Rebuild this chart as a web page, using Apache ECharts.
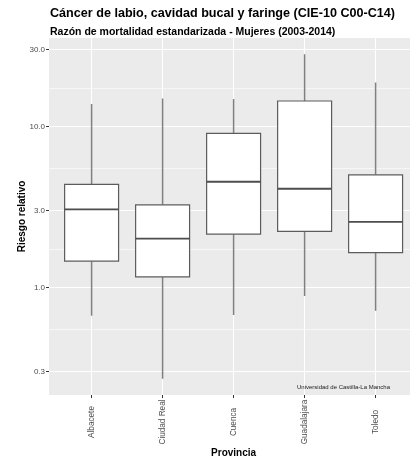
<!DOCTYPE html>
<html>
<head>
<meta charset="utf-8">
<script src="https://cdn.jsdelivr.net/npm/echarts@6/dist/echarts.min.js"></script>
<style>
  html, body { margin: 0; padding: 0; background: #fff; }
  #chart { width: 410px; height: 459px; }
</style>
</head>
<body>
<div id="chart"></div>
<script>
// Provinces of Castilla-La Mancha and the summary of the relative risk per municipality
const provincias = ['Albacete', 'Ciudad Real', 'Cuenca', 'Guadalajara', 'Toledo'];
const minimos    = [0.667, 0.271, 0.674, 0.884, 0.716];
const cuartil1   = [1.455, 1.163, 2.14, 2.23, 1.647];
const medianas   = [3.05, 2.01, 4.53, 4.10, 2.55];
const cuartil3   = [4.36, 3.26, 9.05, 14.37, 5.0];
const maximos    = [13.76, 14.9, 14.78, 28.05, 18.72];

// Log-scale breaks of the vertical axis
const yBreaks      = [0.3, 1, 3, 10, 30];
const yMinorBreaks = [0.548, 1.732, 5.477, 17.32];

const FONT = '"Liberation Sans", Arial, Helvetica, sans-serif';

// Axis limits: data range in log space expanded by 5% on each side
const lgMin = Math.log10(Math.min(...minimos));
const lgMax = Math.log10(Math.max(...maximos));
const pad = 0.05 * (lgMax - lgMin);
const yMin = Math.pow(10, lgMin - pad);
const yMax = Math.pow(10, lgMax + pad);

const xPos = provincias.map((_, i) => i + 1);
const boxData = provincias.map((_, i) =>
  [xPos[i], minimos[i], cuartil1[i], medianas[i], cuartil3[i], maximos[i]]);

const HALF = 0.38;

function renderBox(params, api) {
  const x = api.value(0);
  const lo = api.coord([x, api.value(1)]);
  const q1 = api.coord([x, api.value(2)]);
  const md = api.coord([x, api.value(3)]);
  const q3 = api.coord([x, api.value(4)]);
  const hi = api.coord([x, api.value(5)]);
  const left = api.coord([x - HALF, api.value(3)])[0];
  const right = api.coord([x + HALF, api.value(3)])[0];
  const whisker = { stroke: '#808080', lineWidth: 1.5 };
  return {
    type: 'group',
    children: [
      { type: 'line', shape: { x1: lo[0], y1: q1[1], x2: lo[0], y2: lo[1] }, style: whisker },
      { type: 'line', shape: { x1: hi[0], y1: q3[1], x2: hi[0], y2: hi[1] }, style: whisker },
      { type: 'rect', shape: { x: left, y: q3[1], width: right - left, height: q1[1] - q3[1] },
        style: { fill: '#ffffff', stroke: '#5c5c5c', lineWidth: 1.2 } },
      { type: 'line', shape: { x1: left, y1: md[1], x2: right, y2: md[1] },
        style: { stroke: '#4d4d4d', lineWidth: 1.8 } }
    ]
  };
}

const gridLines = []
  .concat(yMinorBreaks.map(v => ({ yAxis: v, lineStyle: { width: 0.6 } })))
  .concat(yBreaks.map(v => ({ yAxis: v, lineStyle: { width: 1.1 } })))
  .concat(xPos.map(v => ({ xAxis: v, lineStyle: { width: 1.1 } })));

const chart = echarts.init(document.getElementById('chart'), null, { renderer: 'canvas' });
chart.setOption({
  animation: false,
  backgroundColor: '#ffffff',
  title: [
    {
      text: 'Cáncer de labio, cavidad bucal y faringe (CIE-10 C00-C14)',
      left: 50, top: 7.5, padding: 0,
      textStyle: { fontFamily: FONT, fontSize: 12.6, fontWeight: 'bold', color: '#000' }
    },
    {
      text: 'Razón de mortalidad estandarizada - Mujeres (2003-2014)',
      left: 50, top: 26.5, padding: 0,
      textStyle: { fontFamily: FONT, fontSize: 10.5, fontWeight: 'bold', color: '#000' }
    }
  ],
  grid: {
    left: 49, top: 38, right: -8.2, bottom: 64,
    outerBoundsMode: 'none', containLabel: false,
    show: true, backgroundColor: '#ebebeb', borderWidth: 0
  },
  xAxis: {
    type: 'value', min: 0.4, max: 5.6,
    name: 'Provincia', nameLocation: 'middle', nameGap: 53, nameMoveOverlap: false,
    nameTextStyle: { fontFamily: FONT, fontSize: 10, fontWeight: 'bold', color: '#000' },
    axisLine: { show: false },
    axisTick: { show: true, customValues: xPos, length: 3, lineStyle: { color: '#333', width: 1 } },
    axisLabel: {
      customValues: xPos, rotate: 90, margin: 27, align: 'center', verticalAlign: 'middle',
      fontFamily: FONT, fontSize: 8.2, color: '#4d4d4d',
      formatter: v => provincias[Math.round(v) - 1]
    },
    splitLine: { show: false }
  },
  yAxis: {
    type: 'log', logBase: 10, min: yMin, max: yMax,
    name: 'Riesgo relativo', nameLocation: 'middle', nameGap: 22, nameRotate: 90, nameMoveOverlap: false,
    nameTextStyle: { fontFamily: FONT, fontSize: 10, fontWeight: 'bold', color: '#000' },
    axisLine: { show: false },
    axisTick: { show: true, customValues: yBreaks, length: 3, lineStyle: { color: '#333', width: 1 } },
    axisLabel: {
      customValues: yBreaks, margin: 4,
      fontFamily: FONT, fontSize: 8, color: '#4d4d4d',
      formatter: v => Number(v).toFixed(1)
    },
    splitLine: { show: false },
    minorSplitLine: { show: false }
  },
  graphic: [
    {
      type: 'text', left: 297, top: 384, z: 20,
      style: { text: 'Universidad de Castilla-La Mancha', fontFamily: FONT, fontSize: 6, fill: '#1a1a1a' }
    }
  ],
  series: [
    {
      type: 'line', data: [], silent: true,
      markLine: {
        silent: true, symbol: 'none', label: { show: false },
        lineStyle: { color: '#ffffff', type: 'solid' },
        emphasis: { disabled: true },
        data: gridLines
      }
    },
    {
      type: 'custom', z: 10,
      renderItem: renderBox,
      encode: { x: 0, y: [1, 2, 3, 4, 5] },
      data: boxData
    }
  ]
});
</script>
</body>
</html>
